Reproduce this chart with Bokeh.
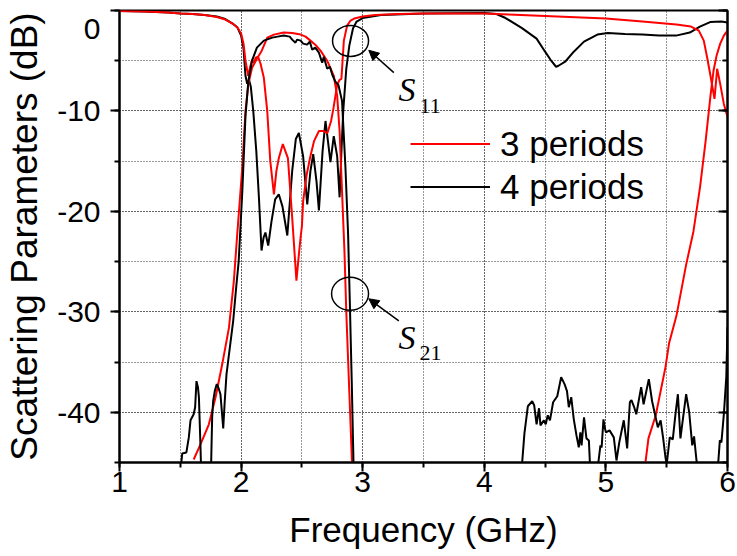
from bokeh.plotting import figure
from bokeh.models import (Range1d, LinearAxis, SingleIntervalTicker, Legend, LegendItem,
                          Arrow, NormalHead, Label)
from bokeh.embed import file_html
from bokeh.resources import INLINE

nan = float("nan")

# ---- data ----
freq_s11_3p = [1.0, 1.2, 1.4, 1.5, 1.6, 1.7, 1.8, 1.87, 1.93, 1.97, 2.0, 2.02, 2.036, 2.058, 2.075,
               2.09, 2.105, 2.12, 2.14, 2.16, 2.187, 2.215, 2.24, 2.27, 2.29, 2.31, 2.343, 2.385,
               2.42, 2.455, 2.475, 2.49, 2.50, 2.51, 2.54, 2.57, 2.6, 2.64, 2.68, 2.71, 2.74, 2.76,
               2.79, 2.81, 2.825, 2.845, 2.872, 2.9, 2.93, 3.0, 3.1, 3.3, 3.5, 4.0, 4.2, 4.6, 5.0,
               5.3, 5.58, 5.7, 5.764, 5.805, 5.833, 5.86, 5.893, 5.915, 5.94, 5.97, 6.0]
s11_3p = [-0.05, -0.1, -0.2, -0.3, -0.35, -0.45, -0.65, -0.9, -1.3, -1.7, -2.3, -3.3, -5.0, -6.5, -5.6,
          -4.9, -5.2, -4.7, -4.6, -5.3, -6.7, -10.0, -15.0, -18.3, -16.0, -14.7, -13.3, -14.7,
          -20.6, -26.9, -24.3, -22.5, -21.5, -19.0, -16.3, -14.5, -13.0, -12.0, -12.0, -12.2, -11.0, -9.7,
          -7.4, -6.9, -6.8, -3.0, -1.5, -1.0, -0.8, -0.6, -0.45, -0.35, -0.3, -0.3, -0.4, -0.6, -0.8,
          -1.1, -1.4, -1.6, -2.0, -3.0, -4.7, -6.5, -8.8, -5.8, -7.3, -9.3, -10.6]

freq_s21_3p = [1.61, 1.666, 1.735, 1.79, 1.845, 1.90, 1.94, 1.968, 2.01, 2.036, 2.06, 2.09, 2.13, 2.17,
               2.215, 2.27, 2.35, 2.42, 2.49, 2.53, 2.57, 2.61, 2.653, 2.708, 2.762, 2.79, 2.81, 2.83,
               2.85, 2.865, 2.89, 2.915, nan,
               5.315, 5.35, 5.41, 5.49, 5.52, 5.58, 5.66, 5.72, 5.775, 5.82, 5.86, 5.885, 5.91, 5.94,
               5.97, 6.0]
s21_3p = [-44.7, -43.2, -41.2, -38.5, -35.2, -31.6, -27.0, -22.3, -15.6, -10.0, -7.3, -5.7, -4.8, -4.0,
          -2.7, -2.4, -2.2, -2.25, -2.4, -2.6, -3.0, -3.4, -4.0, -5.0, -6.5, -8.5, -12.0, -18.0,
          -24.0, -30.0, -38.0, -46.0, nan,
          -46.0, -42.6, -40.3, -35.5, -33.1, -30.4, -25.3, -22.0, -17.5, -13.0, -8.5, -6.0, -4.5, -3.3,
          -2.5, -2.0]

freq_s11_4p = [1.0, 1.2, 1.4, 1.5, 1.6, 1.7, 1.8, 1.87, 1.93, 1.97, 2.0, 2.02, 2.036, 2.05, 2.065, 2.08,
               2.1, 2.125, 2.146, 2.168, 2.185, 2.20, 2.212, 2.223, 2.25, 2.28, 2.31, 2.34, 2.38, 2.42,
               2.45, 2.475, 2.51, 2.544, 2.57, 2.593, 2.62, 2.64, 2.67, 2.694, 2.735, 2.762, 2.79, 2.81,
               2.825, 2.84, 2.865, 2.89, 2.92, 2.95, 3.0, 3.15, 3.5, 4.0, 4.1, 4.175, 4.31, 4.43, 4.5,
               4.55, 4.59, 4.61, 4.665, 4.736, 4.82, 4.93, 5.016, 5.156, 5.3, 5.437, 5.577, 5.69, 5.773,
               5.857, 5.95, 6.0]
s11_4p = [-0.05, -0.1, -0.2, -0.3, -0.35, -0.45, -0.6, -0.85, -1.3, -1.7, -2.5, -3.8, -6.5, -7.3, -6.9, -7.6,
          -10.0, -14.0, -18.5, -23.9, -22.6, -22.1, -22.8, -23.4, -21.0, -18.8, -18.3, -19.5, -22.4, -16.0,
          -12.8, -12.2, -14.5, -19.3, -16.0, -14.3, -17.0, -19.9, -14.0, -11.0, -15.1, -12.5, -14.5, -18.6,
          -14.0, -10.0, -5.8, -3.5, -1.8, -1.1, -0.75, -0.45, -0.3, -0.25, -0.35, -0.75, -1.75, -2.8, -4.1,
          -5.0, -5.6, -5.5, -5.1, -4.1, -3.1, -2.4, -2.25, -2.35, -2.4, -2.5, -2.5, -2.2, -1.6,
          -1.15, -1.1, -1.2]

freq_s21_4p = [1.5, 1.516, 1.55, 1.57, 1.584, 1.61, 1.622, 1.633, 1.645, 1.653, 1.665, 1.672, nan,
               1.752, 1.762, 1.77, 1.785, 1.80, 1.815, 1.83, 1.853, 1.865, 1.88, 1.907, 1.935, 1.96, 1.98,
               2.01, 2.036, 2.06, 2.09, 2.13, 2.187, 2.256, 2.30, 2.35, 2.40, 2.42, 2.447, 2.46, 2.49, 2.51,
               2.543, 2.565, 2.585, 2.61, 2.64, 2.667, 2.68, 2.708, 2.73, 2.75, 2.776, 2.80, 2.83, 2.858,
               2.88, 2.894, 2.91, 2.926, nan,
               4.305, 4.33, 4.358, 4.394, 4.41, 4.43, 4.45, 4.462, 4.49, 4.505, 4.522, 4.54, 4.566, 4.6,
               4.632, 4.66, 4.68, 4.695, 4.715, 4.736, 4.758, 4.777, 4.79, 4.80, 4.82, 4.84, 4.86, 4.872, nan,
               4.928, 4.955, 4.965, 4.98, 4.99, 5.0, 5.03, 5.065, 5.087, 5.11, 5.147, 5.175, 5.197, 5.21,
               5.23, 5.25, 5.29, 5.31, 5.353, 5.38, 5.40, 5.427, 5.45, 5.47, 5.49, 5.50, 5.525, 5.55,
               5.572, 5.592, 5.613, 5.635, 5.66, 5.685, 5.71, 5.725, 5.745, 5.762, nan,
               5.918, 5.937, 5.95, 5.97, 5.99, 6.0]
s21_4p = [-46, -44.1, -44.0, -42.5, -40.8, -40.2, -39.5, -36.9, -37.5, -38.5, -43.0, -46, nan,
          -46, -40.5, -38.9, -37.8, -37.2, -37.6, -38.2, -41.6, -39.0, -36.2, -33.6, -30.9, -27.5, -25.0,
          -18.0, -10.5, -7.0, -5.0, -3.7, -3.0, -2.7, -2.6, -2.5, -2.6, -2.9, -3.2, -2.9, -3.0, -3.3,
          -3.4, -3.1, -3.9, -3.7, -4.2, -5.2, -4.6, -5.8, -5.6, -6.4, -7.1, -7.4, -9.0, -15.6,
          -22.3, -29.0, -37.0, -46, nan,
          -46, -42.1, -39.4, -38.9, -39.3, -41.2, -39.6, -41.3, -40.8, -41.2, -40.3, -40.8, -39.0, -38.4,
          -36.5, -37.2, -37.9, -39.5, -38.5, -40.7, -42.3, -43.5, -42.0, -43.3, -40.5, -42.6, -42.8, -46, nan,
          -46, -43.3, -43.5, -40.7, -41.5, -42.0, -41.8, -42.5, -44.8, -43.0, -40.8, -43.6, -39.0, -38.8,
          -39.4, -40.2, -37.5, -39.2, -36.7, -38.9, -40.0, -41.5, -40.8, -42.5, -44.5, -45.2, -42.5, -42.7,
          -40.2, -38.2, -42.6, -40.5, -38.2, -40.0, -43.3, -42.4, -44.8, -46, nan,
          -46, -42.8, -43.0, -40.2, -36.5, -31.5]

series_labels = ["3 periods", "4 periods"]
y_tick_values = [-40, -30, -20, -10, 0]
y_tick_labels = ["-40", "-30", "-20", "-10", "\n0"]   # "0" is lowered a little, as in the reference

# annotation marks (ellipses, arrows, S-labels) in data units
ell_x = [2.90, 2.896]
ell_y = [-3.03, -28.2]
ell_w = [0.296, 0.304]
ell_h = [3.1, 3.3]

FONT = "Liberation Sans"

p = figure(width=736, height=553, x_range=Range1d(1, 6), y_range=Range1d(-45, 0),
           output_backend="svg", toolbar_location=None,
           min_border_left=119, min_border_right=9, min_border_top=10, min_border_bottom=91)
p.background_fill_color = "white"
p.border_fill_color = "white"
p.outline_line_color = "black"
p.outline_line_width = 2

xt = SingleIntervalTicker(interval=1, num_minor_ticks=2)
yt = SingleIntervalTicker(interval=10, num_minor_ticks=2)
p.xaxis.ticker = xt
p.yaxis.ticker = yt
p.xgrid.ticker = xt
p.ygrid.ticker = yt

for g in (p.xgrid, p.ygrid):
    g.grid_line_color = "#333333"
    g.grid_line_dash = "1 2"
    g.grid_line_width = 1
    g.minor_grid_line_color = "#333333"
    g.minor_grid_line_dash = "1 2"
    g.minor_grid_line_width = 1

for ax in (p.xaxis, p.yaxis):
    ax.axis_line_width = 2
    ax.major_tick_line_width = 2
    ax.minor_tick_line_width = 2
    ax.major_tick_out = 9
    ax.major_tick_in = 0
    ax.minor_tick_out = 5
    ax.minor_tick_in = 0
    ax.major_label_text_font = FONT
    ax.major_label_text_font_size = "30px"
    ax.major_label_text_color = "black"
    ax.axis_label_text_font = FONT
    ax.axis_label_text_font_style = "normal"
    ax.axis_label_text_color = "black"

p.xaxis.axis_label_text_font_size = "35px"
p.yaxis.axis_label_text_font_size = "37px"
p.xaxis.axis_label = "Frequency (GHz)"
p.yaxis.axis_label = "Scattering Parameters (dB)"
p.xaxis.major_label_standoff = 0
p.xaxis.axis_label_standoff = 15
p.yaxis.major_label_standoff = 10
p.yaxis.axis_label_standoff = 9
p.yaxis.major_label_text_line_height = 0.35
p.yaxis.major_label_overrides = {v: t for v, t in zip(y_tick_values, y_tick_labels)}

rax = LinearAxis(ticker=yt, axis_line_width=2, major_tick_line_width=2, minor_tick_line_width=2,
                 major_tick_in=9, major_tick_out=0, minor_tick_in=5, minor_tick_out=0,
                 major_label_standoff=0,
                 major_label_overrides={v: "" for v in y_tick_values})
p.add_layout(rax, "right")

r_s11_4 = p.line(freq_s11_4p, s11_4p, line_color="black", line_width=2)
r_s11_3 = p.line(freq_s11_3p, s11_3p, line_color="#ff0000", line_width=2)
r_s21_3 = p.line(freq_s21_3p, s21_3p, line_color="#ff0000", line_width=2)
r_s21_4 = p.line(freq_s21_4p, s21_4p, line_color="black", line_width=2)

p.ellipse(x=ell_x, y=ell_y, width=ell_w, height=ell_h, fill_color=None,
          line_color="black", line_width=1.5)

p.add_layout(Arrow(end=NormalHead(size=10, fill_color="black", line_color="black"),
                   x_start=3.256, y_start=-6.19, x_end=3.05, y_end=-3.96,
                   line_color="black", line_width=1.5))
p.add_layout(Arrow(end=NormalHead(size=10, fill_color="black", line_color="black"),
                   x_start=3.297, y_start=-30.9, x_end=3.05, y_end=-28.7,
                   line_color="black", line_width=1.5))

for (lx, ly, txt, sz, style) in [(3.294, -7.85, "S", "34px", "italic"),
                                  (3.467, -9.55, "11", "22px", "normal"),
                                  (3.294, -32.6, "S", "34px", "italic"),
                                  (3.467, -34.1, "21", "22px", "normal")]:
    p.add_layout(Label(x=lx, y=ly, text=txt, text_font="Liberation Serif", text_font_style=style,
                       text_font_size=sz, text_baseline="alphabetic", text_align="left",
                       text_color="black"))

legend = Legend(items=[LegendItem(label=series_labels[0], renderers=[r_s11_3]),
                       LegendItem(label=series_labels[1], renderers=[r_s11_4])],
                location=(291, 254), glyph_width=80, glyph_height=43, label_height=43,
                label_standoff=10, spacing=0, padding=0, margin=0,
                border_line_color=None, background_fill_alpha=0,
                label_text_font=FONT, label_text_font_size="35px", label_text_color="black")
p.add_layout(legend)

open("out.html", "w").write(file_html(p, INLINE))
